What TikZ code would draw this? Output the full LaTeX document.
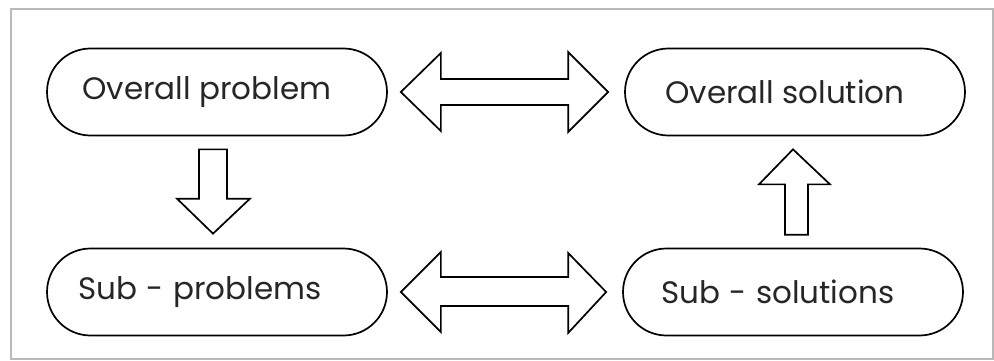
\documentclass[tikz,border=0pt]{standalone}
\usepackage{fontspec}
\setmainfont{Poppins}
\usetikzlibrary{shapes.misc,calc}
\begin{document}
\begin{tikzpicture}[x=1pt,y=-1pt,
  box/.style={draw, line width=1.7pt, rounded rectangle, minimum width=340pt, minimum height=87pt,
    inner sep=0pt, font=\fontsize{31}{36}\selectfont, text=black!85},
  blk/.style={draw, line width=1.7pt, line join=miter, fill=white}]
\useasboundingbox (0,0) rectangle (994,361);
\draw[gray!55, line width=1.2pt] (11,9) rectangle (993,359);
\node[box] (op) at (217,92) {Overall problem\hspace*{20pt}};
\node[box] (os) at (795,92) {Overall solution\hspace*{20pt}};
\node[box] (sp) at (217,292) {Sub\hspace{0.3em}-\hspace{0.3em}problems\hspace*{34pt}};
\node[box] (ss) at (793,292) {Sub\hspace{0.3em}-\hspace{0.3em}solutions\hspace*{30pt}};
% top double arrow
\path (op.east) ++(13,0) coordinate (tl);
\path (os.west) ++(-16,0) coordinate (tr);
\draw[blk] (tl) -- ++(40,-39) -- ++(0,26) -- ($(tr)+(-40,-13)$) -- ++(0,-27) -- (tr)
  -- ++(-40,40) -- ++(0,-27) -- ($(tl)+(40,13)$) -- ++(0,26) -- cycle;
% bottom double arrow
\path (sp.east) ++(13,0) coordinate (bl);
\path (ss.west) ++(-16,0) coordinate (br);
\draw[blk] (bl) -- ++(40,-40) -- ++(0,25) -- ($(br)+(-38,-15)$) -- ++(0,-24) -- (br)
  -- ++(-38,41) -- ++(0,-27) -- ($(bl)+(40,14)$) -- ++(0,26) -- cycle;
% down arrow
\path (op.south) ++(-4,13) coordinate (dt);
\path (sp.north) ++(-4,-14) coordinate (dh);
\draw[blk] ($(dt)+(-14,0)$) -- ($(dt)+(14,0)$) -- ($(dh)+(14,-35)$) -- ($(dh)+(37,-35)$) -- (dh)
  -- ($(dh)+(-36,-35)$) -- ($(dh)+(-14,-35)$) -- cycle;
% up arrow
\path (ss.north) ++(3,-13) coordinate (ub);
\path (os.south) ++(-2,13) coordinate (uh);
\draw[blk] ($(ub)+(-11,0)$) -- ($(ub)+(12,0)$) -- ($(uh)+(15,35)$) -- ($(uh)+(37,35)$) -- (uh)
  -- ($(uh)+(-34,35)$) -- ($(uh)+(-8,35)$) -- cycle;
\end{tikzpicture}
\end{document}
